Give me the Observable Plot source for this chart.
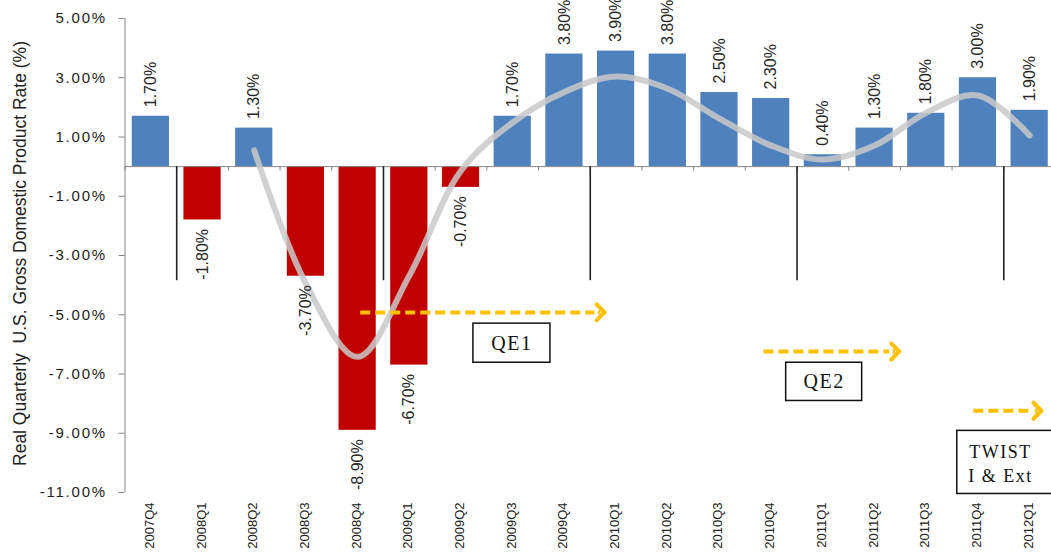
<!DOCTYPE html>
<html>
<head>
<meta charset="utf-8">
<script src="https://cdn.jsdelivr.net/npm/d3@7"></script>
<script src="https://cdn.jsdelivr.net/npm/@observablehq/plot@0.6"></script>
<style>
  html, body { margin: 0; padding: 0; background: #fff; }
  #chart svg { display: block; overflow: hidden; }
  g[aria-label="y-axis tick label"] text { letter-spacing: 1.8px; }
  .box-label text { letter-spacing: 1.5px; }
</style>
</head>
<body>
<div id="chart"></div>
<script>
// Real quarterly U.S. GDP growth, annualised, 2007Q4 – 2012Q1
const quarters = [
  "2007Q4", "2008Q1", "2008Q2", "2008Q3", "2008Q4", "2009Q1", "2009Q2", "2009Q3", "2009Q4",
  "2010Q1", "2010Q2", "2010Q3", "2010Q4", "2011Q1", "2011Q2", "2011Q3", "2011Q4", "2012Q1"
];
const gdpGrowth = [1.7, -1.8, 1.3, -3.7, -8.9, -6.7, -0.7, 1.7, 3.8, 3.9, 3.8, 2.5, 2.3, 0.4, 1.3, 1.8, 3.0, 1.9];

// Smoothed trend drawn from 2008Q2 onward
const trendQuarters = quarters.slice(2);
const trendValues = [0.55, -3.95, -6.42, -3.68, -0.14, 1.49, 2.52, 3.04, 2.63, 1.62, 0.71, 0.24, 0.71, 1.82, 2.40, 1.05];

// First quarter of each calendar year gets a divider line
const yearStarts = ["2008Q1", "2009Q1", "2010Q1", "2011Q1", "2012Q1"];

const yTicks = [5, 3, 1, -1, -3, -5, -7, -9, -11];
const yTitle = "Real Quarterly  U.S. Gross Domestic Product Rate (%)";

// Fed programmes: arrow span on the quarter index axis and the level it sits at
const programNames = ["QE1", "QE2", "TWIST\nI & Ext"];
const programFrom = [4.05, 11.85, 15.91];
const programTo = [8.70, 14.40, 17.15];
const programLevel = [-4.92, -6.24, -8.24];
// Label boxes (quarter index / percent units)
const boxX1 = [6.24, 12.29, 15.60];
const boxX2 = [7.73, 13.76, 17.47];
const boxY1 = [-5.30, -6.62, -8.92];
const boxY2 = [-6.62, -7.91, -11.05];

const bars = quarters.map((q, i) => ({q, i, v: gdpGrowth[i]}));
const trend = trendQuarters.map((q, k) => ({i: quarters.indexOf(q), v: trendValues[k]}));
const programs = programNames.map((name, k) => ({
  name, from: programFrom[k], to: programTo[k], level: programLevel[k],
  x1: boxX1[k], x2: boxX2[k], y1: boxY1[k], y2: boxY2[k]
}));
const bounds = d3.range(quarters.length + 1).map(k => k - 0.5);
const yearLines = yearStarts.map(q => quarters.indexOf(q) - 0.5);

const axisGray = "#868686";
const gold = "#FFC000";
const half = 0.36;
const fmt = v => v.toFixed(2) + "%";

const chart = Plot.plot({
  width: 1051,
  height: 559,
  marginLeft: 124.5,
  marginRight: -4,
  marginTop: 18,
  marginBottom: 67,
  style: {fontFamily: "'Liberation Sans', Arial, sans-serif", background: "#fff", color: "#222"},
  x: {domain: [-0.5, quarters.length - 0.5], axis: null},
  y: {domain: [-11, 5], axis: null},
  marks: [
    // bars
    Plot.rect(bars, {
      x1: d => d.i - half, x2: d => d.i + half, y1: 0, y2: "v",
      fill: d => d.v >= 0 ? "#4F81BD" : "#C00000"
    }),
    // y axis line and ticks
    Plot.ruleX([-0.5], {y1: -11, y2: 5, stroke: axisGray}),
    Plot.axisY({
      ticks: yTicks, tickFormat: fmt, tickSize: 6, tickPadding: 12,
      stroke: axisGray, fill: "#222", fontSize: 15
    }),
    // category axis drawn along zero
    Plot.ruleY([0], {x1: -0.5, x2: quarters.length - 0.5, stroke: axisGray}),
    Plot.ruleX(bounds, {y1: 0, y2: -0.15, stroke: axisGray}),
    // smoothed trend
    Plot.line(trend, {
      x: "i", y: "v", curve: "catmull-rom",
      stroke: "#c9c9c9", strokeOpacity: 0.85, strokeWidth: 6, strokeLinecap: "round"
    }),
    // year dividers
    Plot.ruleX(yearLines, {y1: 0, y2: -3.85, stroke: "#222", strokeWidth: 1.6}),
    // programme arrows: dashed shaft + chevron head
    Plot.link(programs, {
      x1: "from", x2: d => d.to - 0.12, y1: "level", y2: "level",
      stroke: gold, strokeWidth: 4, strokeDasharray: "10,5"
    }),
    Plot.link(programs, {
      x1: d => d.to - 0.05, x2: "to", y1: "level", y2: "level",
      stroke: gold, strokeWidth: 4, markerEnd: "arrow"
    }),
    // programme label boxes
    Plot.rect(programs, {x1: "x1", x2: "x2", y1: "y1", y2: "y2", fill: "#fff", stroke: "#111", strokeWidth: 1.5}),
    Plot.text(programs.slice(0, 2), {
      x: d => (d.x1 + d.x2) / 2, y: d => (d.y1 + d.y2) / 2, text: "name",
      fontFamily: "'Liberation Serif', 'Times New Roman', serif", fontSize: 20, fill: "#111",
      className: "box-label"
    }),
    Plot.text(programs.slice(2), {
      x: d => (d.x1 + d.x2) / 2 - 0.1, y: d => (d.y1 + d.y2) / 2, text: "name",
      fontFamily: "'Liberation Serif', 'Times New Roman', serif", fontSize: 18, lineHeight: 1.3, fill: "#111",
      className: "box-label"
    }),
    // value labels
    Plot.text(bars.filter(d => d.v >= 0), {
      x: "i", y: "v", text: d => fmt(d.v), rotate: -90, textAnchor: "start",
      dy: -9, fontSize: 16, fill: "#262626"
    }),
    Plot.text(bars.filter(d => d.v < 0), {
      x: "i", y: "v", text: d => fmt(d.v), rotate: -90, textAnchor: "end",
      dy: 9, fontSize: 16, fill: "#262626"
    }),
    // category labels under the frame
    Plot.text(bars, {
      x: "i", frameAnchor: "bottom", text: "q", rotate: -90, textAnchor: "end",
      dy: 10, dx: 3, fontSize: 13, fill: "#222"
    }),
    // y axis title
    Plot.text([yTitle], {
      frameAnchor: "left", textAnchor: "middle", dx: -105, dy: -2, rotate: -90, fontSize: 17.5, fill: "#222"
    })
  ]
});

document.getElementById("chart").append(chart);
</script>
</body>
</html>
